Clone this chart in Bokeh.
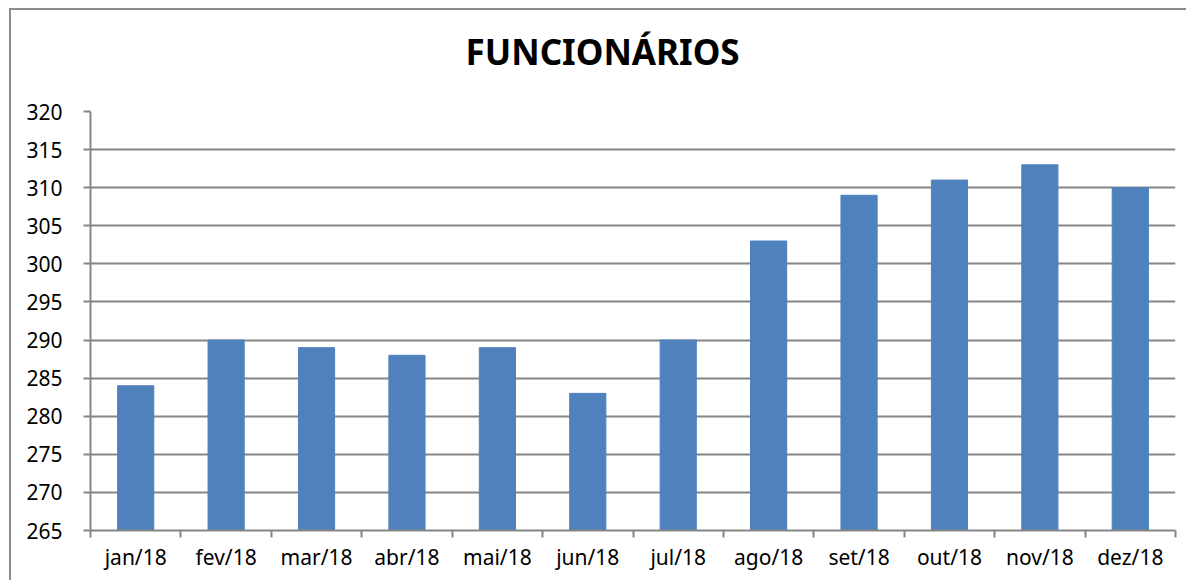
from bokeh.plotting import figure
from bokeh.models import Range1d, FixedTicker, Title
from bokeh.embed import file_html
from bokeh.resources import INLINE

title_text = "FUNCIONÁRIOS"
months = ["jan/18", "fev/18", "mar/18", "abr/18", "mai/18", "jun/18",
          "jul/18", "ago/18", "set/18", "out/18", "nov/18", "dez/18"]
employees = [284, 290, 289, 288, 289, 283, 290, 303, 309, 311, 313, 310]
y_ticks = [265, 270, 275, 280, 285, 290, 295, 300, 305, 310, 315, 320]

FONT = "Noto Sans"
GRID = "#868686"
BAR = "#4F81BD"

centers = [i + 0.5 for i in range(len(months))]

p = figure(width=1177, height=572, output_backend="svg", toolbar_location=None,
           x_range=Range1d(0, len(months)), y_range=Range1d(y_ticks[0], y_ticks[-1]),
           min_border_left=79, min_border_top=101, min_border_right=13, min_border_bottom=52)
p.styles = {"margin-left": "9px", "margin-top": "8px",
            "border-left": "2px solid #8c8c8c", "border-top": "2px solid #8c8c8c"}
p.outline_line_color = None
p.background_fill_color = "white"
p.border_fill_color = "white"

p.vbar(x=centers, top=employees, bottom=y_ticks[0], width=0.4, color=BAR)

# x axis
p.xaxis.ticker = FixedTicker(ticks=centers, minor_ticks=list(range(len(months) + 1)))
p.xaxis.major_label_overrides = {c: m for c, m in zip(centers, months)}
p.xaxis.major_tick_line_color = None
p.xaxis.minor_tick_line_color = GRID
p.xaxis.minor_tick_line_width = 2
p.xaxis.minor_tick_in = 0
p.xaxis.minor_tick_out = 7
p.xaxis.major_label_standoff = 5
p.xaxis.axis_line_color = GRID
p.xaxis.axis_line_width = 2
p.xaxis.major_label_text_font = FONT
p.xaxis.major_label_text_font_size = "21px"
p.xaxis.major_label_text_color = "black"

# y axis
p.yaxis.ticker = FixedTicker(ticks=y_ticks)
p.yaxis.minor_tick_line_color = None
p.yaxis.major_tick_line_color = GRID
p.yaxis.major_tick_line_width = 2
p.yaxis.major_tick_in = 0
p.yaxis.major_tick_out = 7
p.yaxis.major_label_standoff = 21
p.yaxis.axis_line_color = GRID
p.yaxis.axis_line_width = 2
p.yaxis.major_label_text_font = FONT
p.yaxis.major_label_text_font_size = "21px"
p.yaxis.major_label_text_color = "black"

p.xgrid.grid_line_color = None
p.ygrid.grid_line_color = GRID
p.ygrid.grid_line_width = 2

# spacer between title and plot area
p.add_layout(Title(text=" ", standoff=6, text_font_size="10px"), "above")
p.add_layout(Title(text=title_text, align="left", offset=375, standoff=32,
                   vertical_align="top", text_font=FONT, text_font_style="bold",
                   text_font_size="35px", text_color="black"), "above")

open("out.html", "w").write(file_html(p, INLINE))
